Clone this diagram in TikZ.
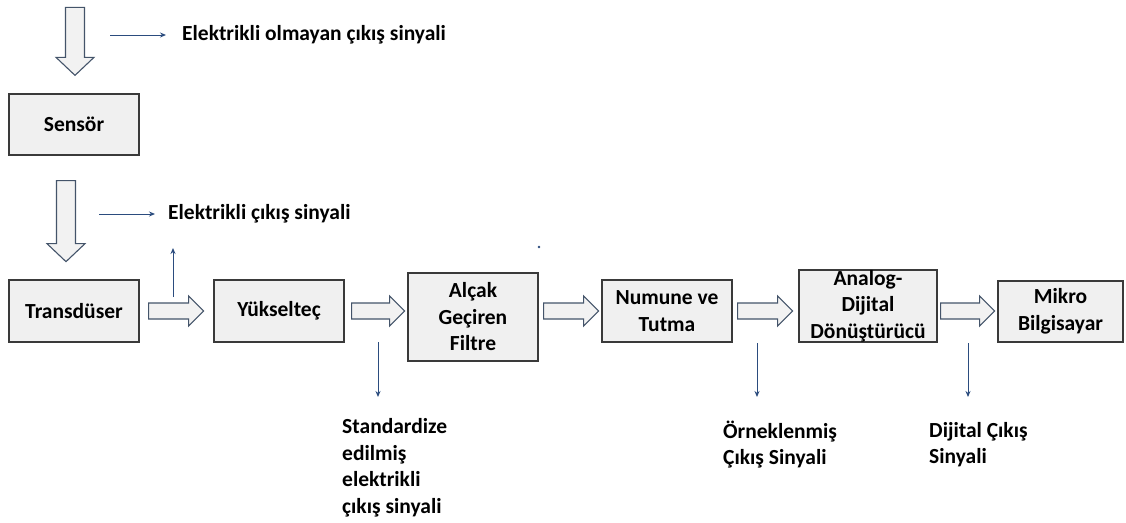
\documentclass[tikz,border=0pt]{standalone}
\usepackage{fontspec}
\setmainfont{Carlito}
\usetikzlibrary{arrows.meta,calc}
\definecolor{boxfill}{HTML}{F0F0F0}
\definecolor{boxline}{HTML}{3A3A3A}
\definecolor{sigblue}{HTML}{2B4C7E}
\definecolor{hollowline}{HTML}{44546A}
\definecolor{hollowfill}{HTML}{F2F2F2}
\tikzset{
  blk/.style={draw=boxline, line width=1.3pt, fill=boxfill, inner sep=0pt,
    align=center, font=\bfseries\fontsize{21.5}{26.5}\selectfont},
  sig/.style={draw=sigblue, line width=1pt, -{Stealth[length=6pt,width=5pt]}},
  lbl/.style={font=\bfseries\fontsize{21.5}{26.5}\selectfont, align=left, inner sep=0pt},
  hollow/.style={draw=hollowline, line width=1.1pt, fill=hollowfill, line join=miter},
  % block arrow along +x: length, shaft half-width, head half-width, head length
  pics/hollowarrow/.style n args={4}{code={
    \path[hollow] (0,#2) -- ({#1-#4},#2) -- ({#1-#4},#3) -- (#1,0)
      -- ({#1-#4},-#3) -- ({#1-#4},-#2) -- (0,-#2) -- cycle;}}
}
\begin{document}
\begin{tikzpicture}[x=1pt,y=-1pt]
\useasboundingbox (0,0) rectangle (1126,522);

% processing blocks
\node[blk, minimum width=130, minimum height=61] (sensor) at (74,124.5) {Sensör};
\node[blk, minimum width=130, minimum height=62] (trans)  at (74,311)   {Transdüser};
\node[blk, minimum width=130, minimum height=62] (yuk)    at (279,311)  {Yükselteç};
\node[blk, minimum width=130, minimum height=88] (filt)   at (473,317)  {Alçak\\Geçiren\\Filtre};
\node[blk, minimum width=130, minimum height=62] (sh)     at (667,311)  {Numune ve\\Tutma};
\node[blk, minimum width=138, minimum height=72] (adc)    at (868,306)  {Analog-\\Dijital\\Dönüştürücü};
\node[blk, minimum width=125, minimum height=61] (mcu)    at (1060.5,311.5) {Mikro\\Bilgisayar};

% block arrows between stages
\path (sensor.north) ++(1,-86) pic[rotate=-90]{hollowarrow={68}{9.5}{19}{18}};
\path (sensor.south) ++(-8,25) pic[rotate=-90]{hollowarrow={81}{9.5}{19}{18}};
\path (trans.east) ++(9,0) pic{hollowarrow={55}{8}{15}{15}};
\path (yuk.east)   ++(7,0) pic{hollowarrow={53}{8}{15}{15}};
\path (filt.east |- trans.east) ++(5,0) pic{hollowarrow={55}{8}{15}{15}};
\path (sh.east)    ++(5,0) pic{hollowarrow={55}{8}{15}{15}};
\path (adc.east |- trans.east) ++(3,0) pic{hollowarrow={54}{8}{15}{15}};

% signal labels
\node[lbl, anchor=west] (t1) at (182,35)  {Elektrikli olmayan çıkış sinyali};
\node[lbl, anchor=west] (t2) at (168,214) {Elektrikli çıkış sinyali};
\node[lbl, anchor=west] (t3) at (342,468) {Standardize\\edilmiş\\elektrikli\\çıkış sinyali};
\node[lbl, anchor=west] (t4) at (723,444.5) {Örneklenmiş\\Çıkış Sinyali};
\node[lbl, anchor=west] (t5) at (929,444.5) {Dijital Çıkış\\Sinyali};

% signal pointers
\coordinate (s1) at (110,35);
\coordinate (s2) at (99,214);
\coordinate (u0) at (173,297);
\coordinate (u1) at (173,248);
\coordinate (d1a) at (378,342); \coordinate (d1b) at (378,397);
\coordinate (d2a) at (757,343); \coordinate (d2b) at (757,397);
\coordinate (d3a) at (968,343); \coordinate (d3b) at (968,397);
\draw[sig] (s1) -- ([xshift=-16]t1.west);
\draw[sig] (s2) -- ([xshift=-13]t2.west);
\draw[sig] (u0) -- (u1);
\draw[sig] (d1a) -- (d1b);
\draw[sig] (d2a) -- (d2b);
\draw[sig] (d3a) -- (d3b);

\fill[sigblue] (539,247) circle (1.4);
\end{tikzpicture}
\end{document}
